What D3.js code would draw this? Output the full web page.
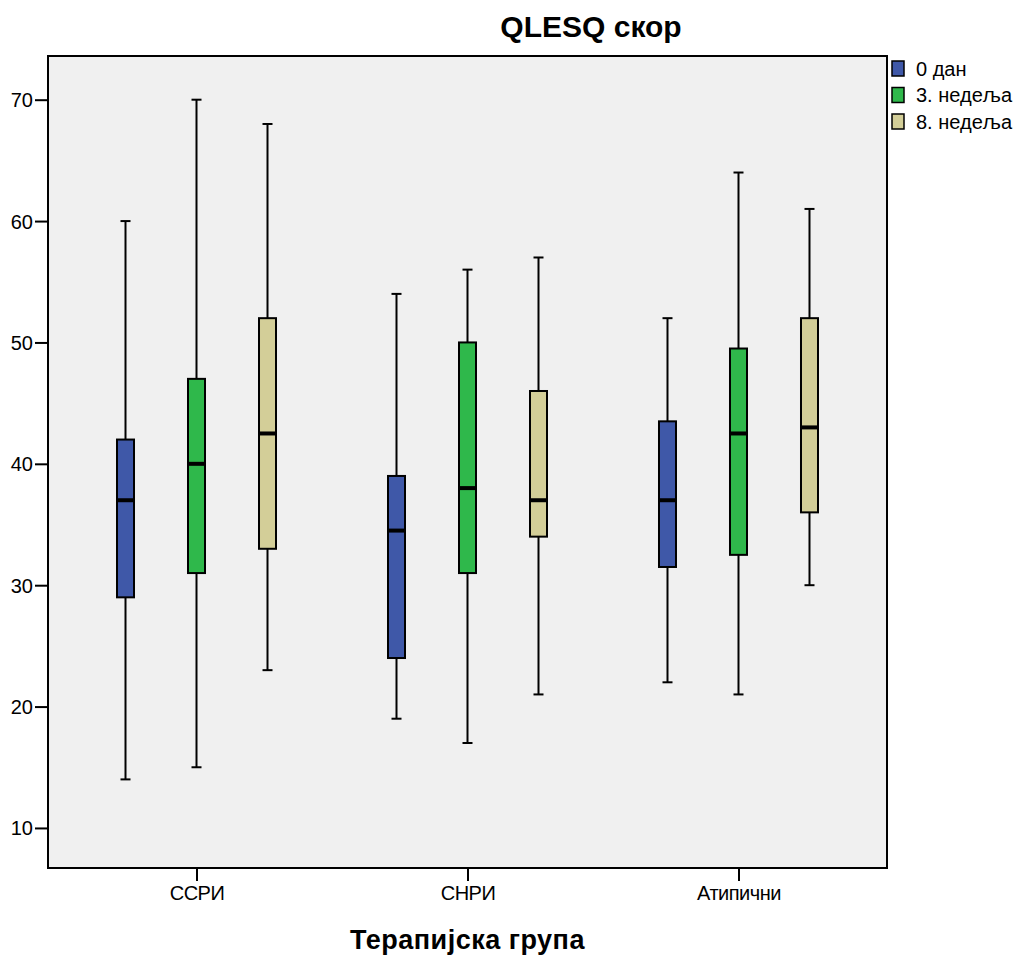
<!DOCTYPE html>
<html>
<head>
<meta charset="utf-8">
<script src="https://cdn.jsdelivr.net/npm/d3@7"></script>
<style>
  html, body { margin: 0; padding: 0; background: #ffffff; }
  svg { display: block; font-family: "Liberation Sans", Arial, sans-serif; }
</style>
</head>
<body>
<svg id="chart" width="1016" height="955"></svg>
<script>
// Treatment groups on the x axis
const groups = ["ССРИ", "СНРИ", "Атипични"];
// Measurement time points (one box per group and time point)
const timepoints = ["0 дан", "3. недеља", "8. недеља"];
const colors = ["#3f58a8", "#2fb84b", "#d3ce98"];

// Five-number summaries per time point, in group order: [min, Q1, median, Q3, max]
const day0   = [[14, 29, 37, 42, 60], [19, 24, 34.5, 39, 54], [22, 31.5, 37, 43.5, 52]];
const week3  = [[15, 31, 40, 47, 70], [17, 31, 38, 50, 56], [21, 32.5, 42.5, 49.5, 64]];
const week8  = [[23, 33, 42.5, 52, 68], [21, 34, 37, 46, 57], [30, 36, 43, 52, 61]];
const seriesValues = [day0, week3, week8];

const yTicks = [10, 20, 30, 40, 50, 60, 70];
const yDomain = [6.7, 73.6];

const svg = d3.select("#chart");
const plot = { left: 48, right: 887, top: 56, bottom: 868 };

const x = d3.scalePoint().domain(groups).range([plot.left, plot.right]).padding(0.548);
const offset = d3.scalePoint().domain(timepoints).range([-71, 71]);
const y = d3.scaleLinear().domain(yDomain).range([plot.bottom, plot.top]);

const boxW = 17;
const capW = 10;

// Plot background
svg.append("rect")
  .attr("x", plot.left).attr("y", plot.top)
  .attr("width", plot.right - plot.left).attr("height", plot.bottom - plot.top)
  .attr("fill", "#f0f0f0");

// Boxes
const rows = [];
timepoints.forEach((t, si) => {
  groups.forEach((g, gi) => {
    const [mn, q1, md, q3, mx] = seriesValues[si][gi];
    rows.push({ t, g, si, mn, q1, md, q3, mx, cx: x(g) + offset(t) });
  });
});

const box = svg.append("g").selectAll("g").data(rows).join("g");

box.append("line")
  .attr("x1", d => d.cx).attr("x2", d => d.cx)
  .attr("y1", d => y(d.mx)).attr("y2", d => y(d.q3))
  .attr("stroke", "#000").attr("stroke-width", 2);
box.append("line")
  .attr("x1", d => d.cx).attr("x2", d => d.cx)
  .attr("y1", d => y(d.q1)).attr("y2", d => y(d.mn))
  .attr("stroke", "#000").attr("stroke-width", 2);
box.append("line")
  .attr("x1", d => d.cx - capW / 2).attr("x2", d => d.cx + capW / 2)
  .attr("y1", d => y(d.mx)).attr("y2", d => y(d.mx))
  .attr("stroke", "#000").attr("stroke-width", 2);
box.append("line")
  .attr("x1", d => d.cx - capW / 2).attr("x2", d => d.cx + capW / 2)
  .attr("y1", d => y(d.mn)).attr("y2", d => y(d.mn))
  .attr("stroke", "#000").attr("stroke-width", 2);
box.append("rect")
  .attr("x", d => d.cx - boxW / 2).attr("width", boxW)
  .attr("y", d => y(d.q3)).attr("height", d => y(d.q1) - y(d.q3))
  .attr("fill", d => colors[d.si])
  .attr("stroke", "#000").attr("stroke-width", 2);
box.append("line")
  .attr("x1", d => d.cx - boxW / 2).attr("x2", d => d.cx + boxW / 2)
  .attr("y1", d => y(d.md)).attr("y2", d => y(d.md))
  .attr("stroke", "#000").attr("stroke-width", 4);

// Axes
const yAxis = svg.append("g")
  .attr("transform", `translate(${plot.left},0)`)
  .call(d3.axisLeft(y).tickValues(yTicks).tickSize(13).tickPadding(2));
const xAxis = svg.append("g")
  .attr("transform", `translate(0,${plot.bottom})`)
  .call(d3.axisBottom(x).tickSize(13).tickPadding(5));
[yAxis, xAxis].forEach(a => {
  a.select(".domain").remove();
  a.selectAll(".tick line").attr("stroke", "#000").attr("stroke-width", 2);
  a.selectAll(".tick text").attr("fill", "#000").style("font-size", "20px")
    .style("font-family", "'Liberation Sans', Arial, sans-serif");
});
yAxis.selectAll(".tick text").attr("dy", "0.35em");
xAxis.selectAll(".tick text").style("letter-spacing", "-0.5px");

// Frame
svg.append("rect")
  .attr("x", plot.left).attr("y", plot.top)
  .attr("width", plot.right - plot.left).attr("height", plot.bottom - plot.top)
  .attr("fill", "none").attr("stroke", "#000").attr("stroke-width", 2);

// Title
svg.append("text")
  .attr("x", 591).attr("y", 37)
  .attr("text-anchor", "middle")
  .style("font-size", "30px").style("font-weight", "bold")
  .text("QLESQ скор");

// X axis title
svg.append("text")
  .attr("x", (plot.left + plot.right) / 2).attr("y", 949)
  .attr("text-anchor", "middle")
  .style("font-size", "27px").style("font-weight", "bold")
  .style("letter-spacing", "0.5px")
  .text("Терапијска група");

// Legend
const legend = svg.append("g").attr("transform", "translate(892,61)");
const li = legend.selectAll("g").data(timepoints).join("g")
  .attr("transform", (d, i) => `translate(0,${i * 26.5})`);
li.append("rect")
  .attr("width", 12).attr("height", 15)
  .attr("fill", (d, i) => colors[i])
  .attr("stroke", "#000").attr("stroke-width", 1.5);
li.append("text")
  .attr("x", 24).attr("y", 7.5).attr("dy", "0.36em")
  .style("font-size", "20px")
  .text(d => d);
</script>
</body>
</html>
